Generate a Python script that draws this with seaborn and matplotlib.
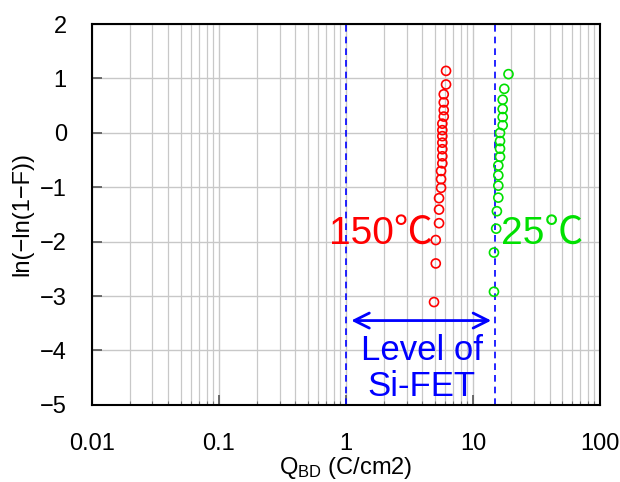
import matplotlib
matplotlib.use("Agg")
import matplotlib.pyplot as plt
import seaborn as sns
from matplotlib.ticker import LogLocator, FixedLocator, NullFormatter, FixedFormatter

# ---- data ----
red_q = [4.93, 5.09, 5.09, 5.4, 5.4, 5.4, 5.6, 5.6, 5.6, 5.73, 5.73,
         5.73, 5.73, 5.73, 5.73, 5.73, 5.88, 5.88, 5.88, 5.88, 6.13, 6.13]
red_w = [-3.11, -2.40, -1.97, -1.66, -1.41, -1.20, -1.01, -0.85, -0.70, -0.56, -0.43,
         -0.30, -0.18, -0.06, 0.05, 0.17, 0.30, 0.42, 0.56, 0.71, 0.89, 1.14]
green_q = [14.6, 14.6, 15.2, 15.4, 15.8, 15.8, 15.8, 15.8, 16.3, 16.3,
           16.3, 16.3, 17.1, 17.1, 17.1, 17.1, 17.6, 19.0]
green_w = [-2.92, -2.20, -1.76, -1.44, -1.19, -0.97, -0.78, -0.60, -0.44, -0.29,
           -0.15, 0.00, 0.14, 0.29, 0.44, 0.61, 0.81, 1.08]
si_fet_range = [1.0, 15.0]
x_ticks = [0.01, 0.1, 1, 10, 100]
x_tick_labels = ["0.01", "0.1", "1", "10", "100"]
y_ticks = [-5, -4, -3, -2, -1, 0, 1, 2]
y_tick_labels = ["\u22125", "\u22124", "\u22123", "\u22122", "\u22121", "0", "1", "2"]

sns.set_theme(style="white")
plt.rcParams['font.family'] = ['Liberation Sans', 'Noto Sans CJK JP', 'DejaVu Sans']
plt.rcParams['axes.unicode_minus'] = True
plt.rcParams['text.color'] = 'black'
plt.rcParams['axes.labelcolor'] = 'black'
plt.rcParams['xtick.color'] = 'black'
plt.rcParams['ytick.color'] = 'black'

fig = plt.figure(figsize=(6.2, 4.82), dpi=100)
ax = fig.add_axes([0.148, 0.160, 0.820, 0.790])

ax.set_xscale("log")
ax.set_xlim(0.01, 100)
ax.set_ylim(-5, 2)

# grid
ax.xaxis.set_major_locator(FixedLocator(x_ticks))
ax.xaxis.set_major_formatter(FixedFormatter(x_tick_labels))
ax.xaxis.set_minor_locator(LogLocator(base=10, subs=range(2, 10)))
ax.xaxis.set_minor_formatter(NullFormatter())
ax.yaxis.set_major_locator(FixedLocator(y_ticks))
ax.yaxis.set_major_formatter(FixedFormatter(y_tick_labels))
ax.grid(True, which="major", color="#c8c8c8", lw=1.0)
ax.grid(True, which="minor", axis="x", color="#c8c8c8", lw=0.9)
ax.set_axisbelow(True)

for s in ax.spines.values():
    s.set_color("black")
    s.set_linewidth(1.5)
    s.set_visible(True)

ax.tick_params(axis="both", which="major", direction="in", length=7, width=1.2,
               color="#555555", labelcolor="black", labelsize=17)
ax.tick_params(axis="x", which="major", pad=20, bottom=True)
ax.tick_params(axis="y", which="major", pad=18, left=True)
ax.tick_params(axis="x", which="minor", direction="in", length=3, width=0.8,
               color="#777777", bottom=True)

# vertical dashed lines
for xv in si_fet_range:
    ax.axvline(xv, color="blue", ls=(0, (4, 3)), lw=1.2, zorder=2)

# data
sns.scatterplot(x=red_q, y=red_w, ax=ax, marker="o", s=42, facecolor="none",
                edgecolor="red", linewidth=1.2, zorder=4)
sns.scatterplot(x=green_q, y=green_w, ax=ax, marker="o", s=42, facecolor="none",
                edgecolor="#00e000", linewidth=1.2, zorder=4)

# arrow
ax.annotate("", xy=(1.1, -3.45), xytext=(13.9, -3.45),
            arrowprops=dict(arrowstyle="<->,head_length=0.9,head_width=0.45",
                            color="blue", lw=2, shrinkA=0, shrinkB=0))
ax.text(3.95, -4.33, "Level of\nSi-FET", color="blue", fontsize=25,
        ha="center", va="center", linespacing=1.1)
ax.text(4.8, -1.85, "150\u2103", color="red", fontsize=28, ha="right", va="center",
        family=['Liberation Sans', 'Noto Sans CJK JP'])
ax.text(16.6, -1.85, "25\u2103", color="#00e000", fontsize=28, ha="left", va="center",
        family=['Liberation Sans', 'Noto Sans CJK JP'])

ax.set_xlabel(r"$\mathregular{Q_{BD}}$ (C/cm2)", fontsize=17, labelpad=0)
ax.set_ylabel("ln(\u2212ln(1\u2212F))", fontsize=17, labelpad=5)

fig.savefig("out.png", dpi=100)
